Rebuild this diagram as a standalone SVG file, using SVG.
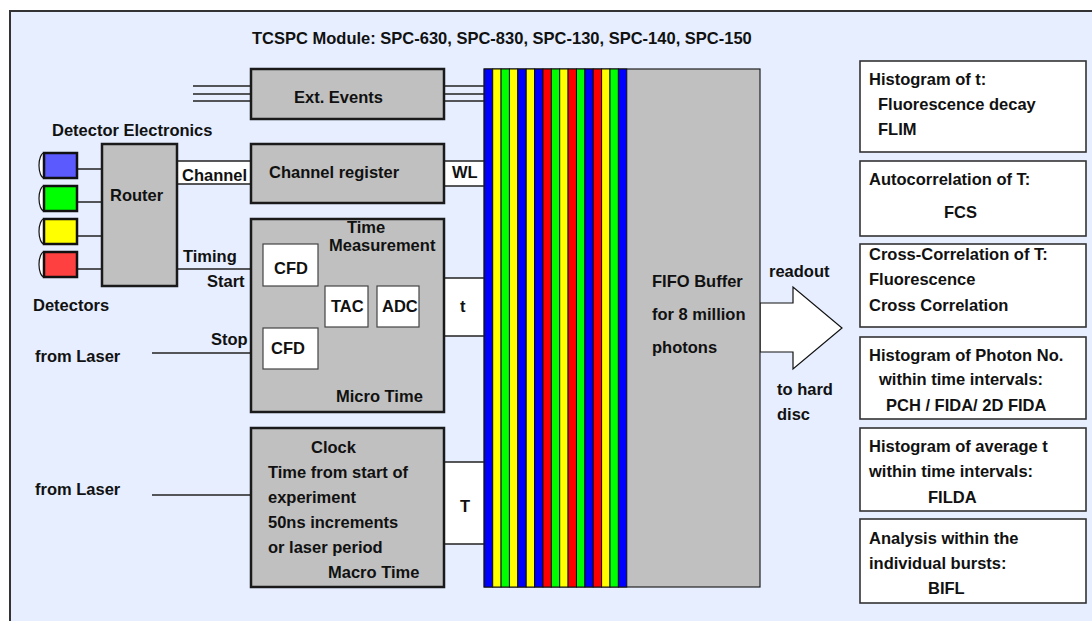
<svg xmlns="http://www.w3.org/2000/svg" width="1092" height="621" viewBox="0 0 1092 621">
<style>
text{font-family:"Liberation Sans",Arial,sans-serif;font-weight:bold;font-size:16.5px;fill:#111}
.box{fill:#c0c0c0;stroke:#1a1a1a;stroke-width:2.5}
.wbox{fill:#fff;stroke:#444;stroke-width:1.2}
.rbox{fill:#fff;stroke:#333;stroke-width:1.6}
.ln{stroke:#222;stroke-width:1.3;fill:none}
.lab{fill:#fff;stroke:none}
.st{stroke:#111;stroke-width:1}
.det{stroke:#111;stroke-width:2.5}
.cap{fill:#fff;stroke:#111;stroke-width:1.2}
</style>
<rect x="0" y="0" width="1092" height="621" fill="#fff"/>
<rect x="10" y="11" width="1090" height="620" fill="#e6eeff" stroke="#333" stroke-width="2"/>
<text x="252" y="44">TCSPC Module: SPC-630, SPC-830, SPC-130, SPC-140, SPC-150</text>

<g id="connectors">
  <path class="ln" d="M193,86H251M193,94H251M193,101H251"/>
  <path class="ln" d="M444,86H484M444,94H484M444,101H484"/>
  <path class="ln" d="M77,169H102M77,202H102M77,236H102M77,269H102"/>
  <rect class="lab" x="177" y="161" width="74" height="23"/>
  <path class="ln" d="M177,161H251M177,184H251"/>
  <rect class="lab" x="444" y="161" width="40" height="25"/>
  <path class="ln" d="M444,161H484M444,186H484"/>
  <path class="ln" d="M177,269H263"/>
  <path class="ln" d="M152,353H263"/>
  <path class="ln" d="M318,269H335V286M318,353H335V327M368,307H377"/>
  <rect class="lab" x="444" y="278" width="40" height="58"/>
  <path class="ln" d="M444,278H484M444,336H484"/>
  <path class="ln" d="M152,495H251"/>
  <rect class="lab" x="444" y="462" width="40" height="82"/>
  <path class="ln" d="M444,462H484M444,544H484"/>
  <polygon points="760,303 793,303 793,287 842,328 793,369 793,352 760,352" fill="#fff" stroke="#111" stroke-width="1.2"/>
</g>

<g id="detectors">
  <ellipse class="cap" cx="44" cy="165.5" rx="5" ry="12.5"/><rect class="det" x="44" y="153" width="33" height="25" fill="#5a5aff"/>
  <ellipse class="cap" cx="44" cy="198.5" rx="5" ry="12.5"/><rect class="det" x="44" y="186" width="33" height="25" fill="#00ff00"/>
  <ellipse class="cap" cx="44" cy="231.5" rx="5" ry="12.5"/><rect class="det" x="44" y="219" width="33" height="25" fill="#ffff00"/>
  <ellipse class="cap" cx="44" cy="264.5" rx="5" ry="12.5"/><rect class="det" x="44" y="252" width="33" height="25" fill="#ff4040"/>
  <text x="52" y="136">Detector Electronics</text>
  <text x="33" y="311">Detectors</text>
</g>

<g id="router">
  <rect class="box" x="102" y="144" width="75" height="142"/>
  <text x="110" y="201">Router</text>
</g>

<g id="labels">
  <text x="182" y="181">Channel</text>
  <text x="452" y="178">WL</text>
  <text x="183" y="262">Timing</text>
  <text x="207" y="287">Start</text>
  <text x="211" y="345">Stop</text>
  <text x="35" y="362">from Laser</text>
  <text x="460" y="312">t</text>
  <text x="35" y="495">from Laser</text>
  <text x="460" y="512">T</text>
  <text x="769" y="277">readout</text>
  <text x="777" y="395">to hard</text>
  <text x="777" y="420">disc</text>
</g>

<g id="ext-events">
  <rect class="box" x="251" y="69" width="193" height="50"/>
  <text x="294" y="103">Ext. Events</text>
</g>

<g id="channel-register">
  <rect class="box" x="251" y="144" width="193" height="59"/>
  <text x="269" y="178">Channel register</text>
</g>

<g id="time-measurement">
  <rect class="box" x="251" y="219" width="193" height="193"/>
  <text x="347" y="233">Time</text>
  <text x="329" y="251">Measurement</text>
  <text x="336" y="402">Micro Time</text>
  <rect class="wbox" x="263" y="244" width="55" height="42"/>
  <text x="274" y="274">CFD</text>
  <rect class="wbox" x="263" y="328" width="55" height="41"/>
  <text x="271" y="354">CFD</text>
  <rect class="wbox" x="325" y="286" width="43" height="41"/>
  <text x="331" y="312">TAC</text>
  <rect class="wbox" x="377" y="286" width="42" height="41"/>
  <text x="382" y="312">ADC</text>
</g>

<g id="clock">
  <rect class="box" x="251" y="428" width="193" height="159"/>
  <text x="311" y="453">Clock</text>
  <text x="268" y="478">Time from start of</text>
  <text x="268" y="503">experiment</text>
  <text x="268" y="528">50ns increments</text>
  <text x="268" y="553">or laser period</text>
  <text x="328" y="578">Macro Time</text>
</g>

<g id="fifo">
  <rect x="484" y="69" width="276" height="518" fill="#c0c0c0" stroke="#222" stroke-width="1.2"/>
  <g class="st">
    <rect x="484.3" y="69" width="8.38" height="518" fill="#0000ff"/>
    <rect x="492.7" y="69" width="8.38" height="518" fill="#ffff00"/>
    <rect x="501.1" y="69" width="8.38" height="518" fill="#00ff00"/>
    <rect x="509.4" y="69" width="8.38" height="518" fill="#ffff00"/>
    <rect x="517.8" y="69" width="8.38" height="518" fill="#0000ff"/>
    <rect x="526.2" y="69" width="8.38" height="518" fill="#ffff00"/>
    <rect x="534.6" y="69" width="8.38" height="518" fill="#0000ff"/>
    <rect x="543.0" y="69" width="8.38" height="518" fill="#ff0000"/>
    <rect x="551.3" y="69" width="8.38" height="518" fill="#00ff00"/>
    <rect x="559.7" y="69" width="8.38" height="518" fill="#ffff00"/>
    <rect x="568.1" y="69" width="8.38" height="518" fill="#ff0000"/>
    <rect x="576.5" y="69" width="8.38" height="518" fill="#00ff00"/>
    <rect x="584.9" y="69" width="8.38" height="518" fill="#0000ff"/>
    <rect x="593.2" y="69" width="8.38" height="518" fill="#ff0000"/>
    <rect x="601.6" y="69" width="8.38" height="518" fill="#ffff00"/>
    <rect x="610.0" y="69" width="8.38" height="518" fill="#00ff00"/>
    <rect x="618.4" y="69" width="8.38" height="518" fill="#0000ff"/>
  </g>
  <text x="652" y="287">FIFO Buffer</text>
  <text x="652" y="320">for 8 million</text>
  <text x="652" y="353">photons</text>
</g>

<g id="hist-t">
  <rect class="rbox" x="860" y="61" width="226" height="91"/>
  <text x="869" y="85">Histogram of t:</text>
  <text x="878" y="110">Fluorescence decay</text>
  <text x="878" y="135">FLIM</text>
</g>
<g id="autocorr">
  <rect class="rbox" x="860" y="161" width="226" height="75"/>
  <text x="869" y="185">Autocorrelation of T:</text>
  <text x="944" y="218">FCS</text>
</g>
<g id="crosscorr">
  <rect class="rbox" x="860" y="244" width="226" height="83"/>
  <text x="869" y="260">Cross-Correlation of T:</text>
  <text x="869" y="285">Fluorescence</text>
  <text x="869" y="311">Cross Correlation</text>
</g>
<g id="photon-hist">
  <rect class="rbox" x="860" y="337" width="226" height="82"/>
  <text x="869" y="361">Histogram of Photon No.</text>
  <text x="879" y="385">within time intervals:</text>
  <text x="886" y="411">PCH / FIDA/ 2D FIDA</text>
</g>
<g id="filda">
  <rect class="rbox" x="860" y="428" width="226" height="83"/>
  <text x="869" y="452">Histogram of average t</text>
  <text x="869" y="477">within time intervals:</text>
  <text x="928" y="503">FILDA</text>
</g>
<g id="bifl">
  <rect class="rbox" x="860" y="519" width="226" height="84"/>
  <text x="869" y="544">Analysis within the</text>
  <text x="869" y="569">individual bursts:</text>
  <text x="928" y="594">BIFL</text>
</g>
</svg>
